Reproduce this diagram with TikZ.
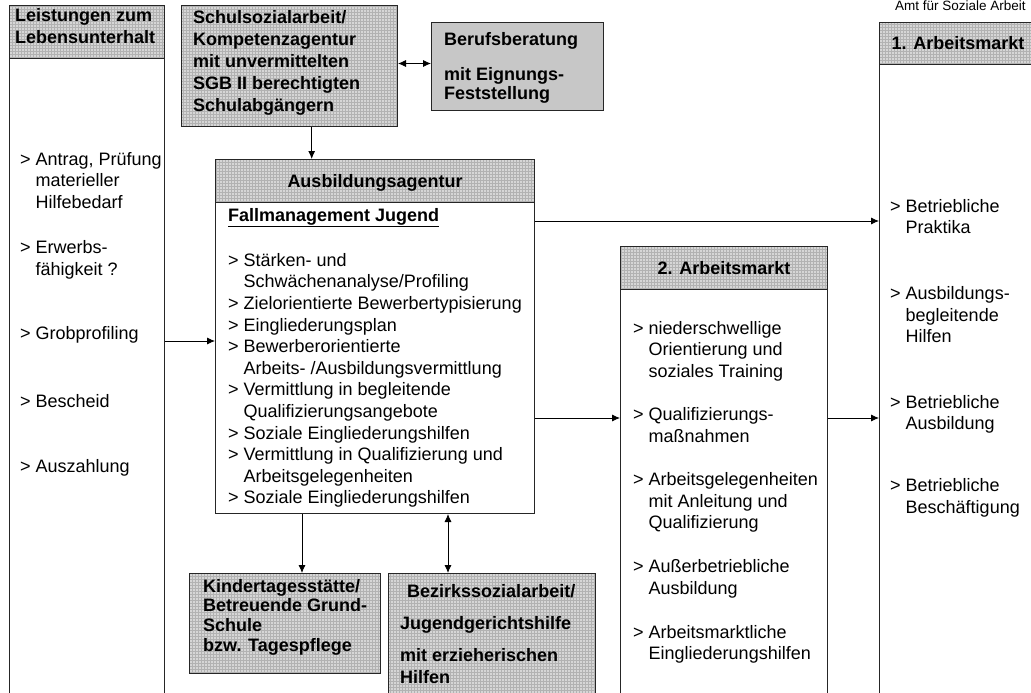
\documentclass[tikz,border=0pt]{standalone}
\usepackage{fontspec}
\setmainfont{Liberation Sans}
\usepackage{tikz}
\usetikzlibrary{arrows,arrows.meta,patterns,positioning}
\newcommand{\lfont}{\fontsize{18}{21.6}\selectfont}
\newcommand{\hfont}{\bfseries\fontsize{18}{22}\selectfont}
\newcommand{\pkt}{\makebox[15.5pt][l]{>}}
\newcommand{\einr}{\hspace*{15.5pt}}
\begin{document}
\begin{tikzpicture}[x=1pt,y=-1pt,>={Latex[length=8pt,width=7pt]},
  kasten/.style={draw=black!85,line width=1pt,preaction={fill=black!16},pattern=grid,pattern color=black!30,inner sep=0pt,anchor=north west},
  kopf/.style={kasten,font=\hfont,text height=12.5pt,text depth=0pt},
  grau/.style={draw=black!85,line width=1pt,fill=black!22,inner sep=0pt,anchor=north west},
  spalte/.style={draw=black!85,line width=1pt,fill=white,inner sep=0pt,anchor=north west},
  liste/.style={inner sep=0pt,anchor=north west,align=left,font=\lfont,execute at begin node=\strut},
  titel/.style={liste,font=\hfont},
  pfeil/.style={->,line width=0.8pt}]
\useasboundingbox (0,0) rectangle (1031,693);

% Leistungen zum Lebensunterhalt
\node[spalte,minimum width=155pt,minimum height=645pt] (lsBody) at (9,58) {};
\node[kasten,minimum width=155pt,minimum height=53pt] (lsKopf) at (9,5) {};
\node[titel,below right=3pt and 6pt of lsKopf.north west] (lsTitel) {Leistungen zum\\Lebensunterhalt};
\node[liste,below right=94pt and 11pt of lsBody.north west] (lsListe) {\pkt Antrag, Prüfung\\\einr materieller\\\einr Hilfebedarf\\[23.4pt]
  \pkt Erwerbs-\\\einr fähigkeit ?\\[42.4pt]
  \pkt Grobprofiling\\[46.4pt]
  \pkt Bescheid\\[43.4pt]
  \pkt Auszahlung};

% Schulsozialarbeit und Berufsberatung
\node[kasten,minimum width=216pt,minimum height=121pt] (schul) at (181,5) {};
\node[titel,below right=5pt and 12pt of schul.north west] (schulText) {Schulsozialarbeit/\\Kompetenzagentur\\mit unvermittelten\\SGB II berechtigten\\Schulabgängern};
\node[grau,minimum width=172pt,minimum height=88pt] (beruf) at (431,22) {};
\node[titel,below right=10pt and 13pt of beruf.north west] (berufText) {Berufsberatung\\[13pt]mit Eignungs-\\[-3pt]Feststellung};

% Ausbildungsagentur
\node[spalte,minimum width=319pt,minimum height=311pt] (agBody) at (215,202) {};
\node[kopf,minimum width=319pt,minimum height=43pt] (agKopf) at (215,159) {Ausbildungsagentur};
\node[liste,below right=6pt and 13pt of agBody.north west] (agListe) {{\bfseries\underline{Fallmanagement Jugend}}\\[23.4pt]
  \pkt Stärken- und\\\einr Schwächenanalyse/Profiling\\
  \pkt Zielorientierte Bewerbertypisierung\\
  \pkt Eingliederungsplan\\
  \pkt Bewerberorientierte\\\einr Arbeits- /Ausbildungsvermittlung\\
  \pkt Vermittlung in begleitende\\\einr Qualifizierungsangebote\\
  \pkt Soziale Eingliederungshilfen\\
  \pkt Vermittlung in Qualifizierung und\\\einr Arbeitsgelegenheiten\\
  \pkt Soziale Eingliederungshilfen};

% 2. Arbeitsmarkt
\node[spalte,minimum width=207pt,minimum height=414pt] (amZweiBody) at (620,289) {};
\node[kopf,minimum width=207pt,minimum height=43pt] (amZweiKopf) at (620,246) {2. Arbeitsmarkt};
\node[liste,below right=32pt and 13pt of amZweiBody.north west] (amZweiListe) {\pkt niederschwellige\\\einr Orientierung und\\\einr soziales Training\\[21.6pt]
  \pkt Qualifizierungs-\\\einr maßnahmen\\[21.6pt]
  \pkt Arbeitsgelegenheiten\\\einr mit Anleitung und\\\einr Qualifizierung\\[22.4pt]
  \pkt Außerbetriebliche\\\einr Ausbildung\\[22.4pt]
  \pkt Arbeitsmarktliche\\\einr Eingliederungshilfen};

% 1. Arbeitsmarkt
\node[spalte,minimum width=157pt,minimum height=639pt] (amEinsBody) at (879,64) {};
\node[kopf,minimum width=157pt,minimum height=42pt] (amEinsKopf) at (879,22) {1. Arbeitsmarkt};
\node[liste,below right=135pt and 11pt of amEinsBody.north west] (amEinsListe) {\pkt Betriebliche\\\einr Praktika\\[44pt]
  \pkt Ausbildungs-\\\einr begleitende\\\einr Hilfen\\[44pt]
  \pkt Betriebliche\\\einr Ausbildung\\[40pt]
  \pkt Betriebliche\\\einr Beschäftigung};
\node[anchor=base west,inner sep=0pt,font=\fontsize{13.5}{16}\selectfont] (amt) at (895,10.5) {Amt für Soziale Arbeit};

% Kita und Bezirkssozialarbeit
\node[kasten,minimum width=191pt,minimum height=100pt] (kita) at (189,573) {};
\node[titel,below right=6pt and 14pt of kita.north west] (kitaText) {Kindertagesstätte/\\[-2.3pt]Betreuende Grund-\\[-2.3pt]Schule\\[-2.3pt]bzw. Tagespflege};
\node[kasten,minimum width=207pt,minimum height=130pt] (bezirk) at (388,573) {};
\node[titel,below right=11pt and 12pt of bezirk.north west] (bezirkText) {\hspace*{7pt}Bezirkssozialarbeit/\\[10pt]Jugendgerichtshilfe\\[10pt]mit erzieherischen\\Hilfen};

% Pfeile
\coordinate (sa) at ([xshift=130.7pt]schul.south west);
\draw[pfeil] (sa) -- (sa |- agKopf.north);
\coordinate (bw) at ([yshift=3pt]beruf.west);
\draw[<->,line width=0.8pt] (bw -| schul.east) -- (bw);
\draw[pfeil] (lsBody.east |- 0,341) -- (agBody.west |- 0,341);
\draw[pfeil] (agBody.east |- 0,221) -- (amEinsBody.west |- 0,221);
\draw[pfeil] (agBody.east |- 0,418) -- (amZweiBody.west |- 0,418);
\draw[pfeil] (amZweiBody.east |- 0,418) -- (amEinsBody.west |- 0,418);
\draw[pfeil] (agBody.south -| 302,0) -- (kita.north -| 302,0);
\draw[<->,line width=0.8pt] (agBody.south -| 448,0) -- (bezirk.north -| 448,0);
\end{tikzpicture}
\end{document}
